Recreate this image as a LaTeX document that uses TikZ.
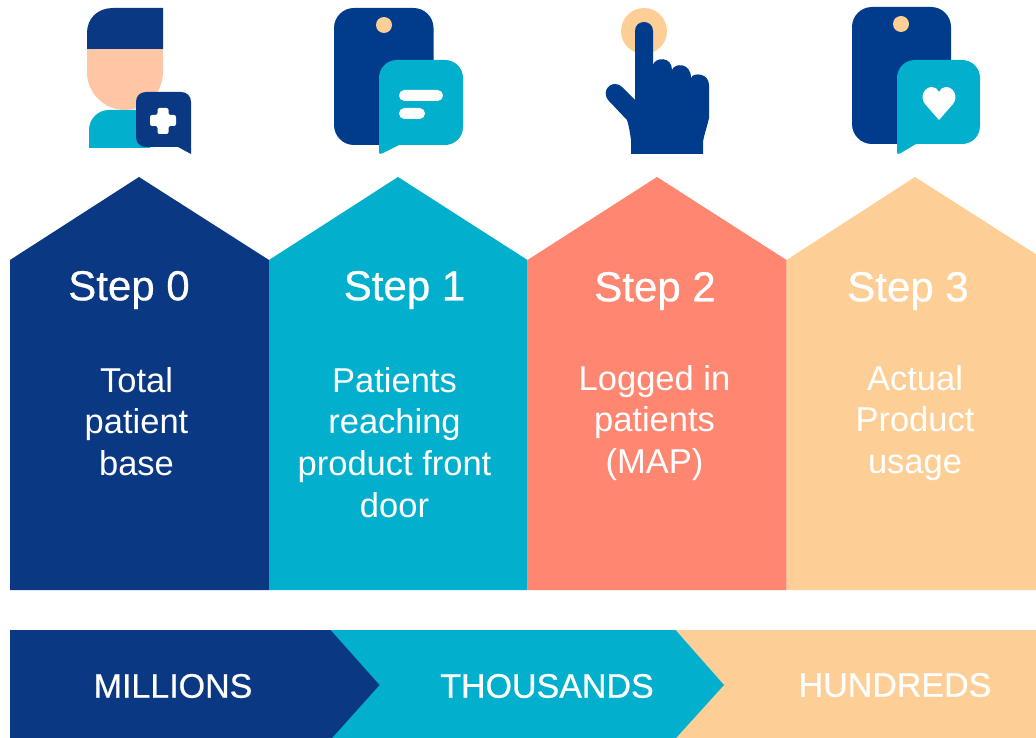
\documentclass[tikz,border=0pt]{standalone}
\usepackage{fontspec}
\setmainfont{Liberation Sans}
\newfontfamily\titlefont[FakeBold=0.6]{Liberation Sans}
\newfontfamily\bandfont[FakeBold=0.6]{Liberation Sans}
\definecolor{navy}{HTML}{0A3882}
\definecolor{phone}{HTML}{003B8C}
\definecolor{cyanb}{HTML}{02B0CD}
\definecolor{coral}{HTML}{FF8670}
\definecolor{peach}{HTML}{FDCF96}
\definecolor{skin}{HTML}{FFC6A5}
\tikzset{
  steptitle/.style={text=white,font=\titlefont\fontsize{42}{46}\selectfont,inner sep=0pt,anchor=center},
  stepbody/.style={text=white,font=\fontsize{34.5}{41.6}\selectfont,inner sep=0pt,align=center,anchor=north},
  banner/.style={text=white,font=\bandfont\fontsize{34}{38}\selectfont,inner sep=0pt,anchor=center},
}
\begin{document}
\begin{tikzpicture}[x=1pt,y=-1pt]
\useasboundingbox (0,0) rectangle (1036,738);
\begin{scope}
\clip (0,0) rectangle (1036,738);
% pentagons
\fill[navy] (10,590) -- (10,260) -- (139,177) -- (269,260) -- (269,590) -- cycle;
\fill[cyanb] (269,590) -- (269,260) -- (398,177) -- (527.5,260) -- (527.5,590) -- cycle;
\fill[coral] (527.5,590) -- (527.5,260) -- (657,177) -- (786.5,260) -- (786.5,590) -- cycle;
\fill[peach] (786.5,590) -- (786.5,260) -- (915,177) -- (1045,260) -- (1045,590) -- cycle;
% bottom band
\fill[peach] (660,630) -- (1036,630) -- (1036,738) -- (660,738) -- cycle;
\fill[cyanb] (320,630) -- (675.5,630) -- (724,685) -- (676,738) -- (320,738) -- cycle;
\fill[navy] (10,630) -- (330.5,630) -- (379.5,685) -- (332,738) -- (10,738) -- cycle;
\end{scope}
% icon 0: patient
\fill[cyanb] (89,148) -- (89,130) arc[start angle=180,end angle=270,radius=20] -- (150,110) -- (150,148) -- cycle;
\fill[skin] (87,49) -- (163,49) -- (163,72) arc[start angle=0,end angle=180,radius=38] -- cycle;
\fill[navy] (87,49) -- (87,33) .. controls (87,18) and (98,8) .. (113,8) -- (163,8) -- (163,49) -- cycle;
\fill[navy] (146,92) -- (181,92) .. controls (187,92) and (191,96) .. (191,102) -- (191,154) -- (178,147) -- (146,147) .. controls (140,147) and (136,143) .. (136,137) -- (136,102) .. controls (136,96) and (140,92) .. (146,92) -- cycle;
\fill[white,rounded corners=2pt] (157.5,108) -- (168.5,108) -- (168.5,115) -- (176,115) -- (176,126) -- (168.5,126) -- (168.5,134) -- (157.5,134) -- (157.5,126) -- (150,126) -- (150,115) -- (157.5,115) -- cycle;
% icon 1: phone with message
\fill[phone,rounded corners=20pt] (334,8) rectangle (433.5,145);
\fill[peach] (384,25) circle[radius=8];
\fill[cyanb] (397,60) -- (445,60) .. controls (455,60) and (463,68) .. (463,78) -- (463,127) .. controls (463,137) and (455,145) .. (445,145) -- (399,145) -- (382,153.5) .. controls (380,154.5) and (379,154) .. (379,152) -- (379,78) .. controls (379,68) and (387,60) .. (397,60) -- cycle;
\fill[white,rounded corners=5.4pt] (399,90) rectangle (443,101);
\fill[white,rounded corners=5.4pt] (399,108) rectangle (425,119);
% icon 2: pointing hand
\fill[peach] (644,31) circle[radius=23];
\fill[phone] (631,154) -- (631,140) .. controls (630,133) and (629,126) .. (627,120) -- (609,101) .. controls (602,94) and (607,84) .. (615,84) .. controls (618,84) and (620,85) .. (622,87) -- (635,100) -- (635,31) .. controls (635,19) and (653,19) .. (653,31) -- (653,65) .. controls (655,57) and (672,56) .. (672,70) .. controls (674,63) and (691,62) .. (691,78) .. controls (693,72) and (709,73) .. (709,85) -- (709,118) .. controls (707,127) and (704,135) .. (703,142) -- (703,154) -- cycle;
% icon 3: phone with heart
\fill[phone,rounded corners=20pt] (852,7) rectangle (951,144);
\fill[peach] (901,24) circle[radius=8];
\fill[cyanb] (915,60) -- (962,60) .. controls (972,60) and (980,68) .. (980,78) -- (980,126) .. controls (980,136) and (972,144) .. (962,144) -- (916,144) -- (900,153.5) .. controls (898,154.5) and (897,154) .. (897,152) -- (897,78) .. controls (897,68) and (905,60) .. (915,60) -- cycle;
\fill[white] (939,120) -- (925,104) .. controls (919,96) and (925,87) .. (932,87) .. controls (935,87) and (938,89) .. (939,92) .. controls (940,89) and (943,87) .. (946,87) .. controls (953,87) and (959,96) .. (953,104) -- cycle;
% texts
\node[steptitle] (s0) at (129,290) {Step 0};
\node[steptitle] (s1) at (404.5,290) {Step 1};
\node[steptitle] (s2) at (655,291) {Step 2};
\node[steptitle] (s3) at (908,291) {Step 3};
\node[stepbody] (b0) at (136.5,367) {Total\\patient\\base};
\node[stepbody] (b1) at (394.5,367) {Patients\\reaching\\product front\\door};
\node[stepbody] (b2) at (654.5,365) {Logged in\\patients\\(MAP)};
\node[stepbody] (b3) at (915,365) {Actual\\Product\\usage};
\node[banner] (m) at (173,686) {MILLIONS};
\node[banner] (t) at (547,686) {THOUSANDS};
\node[banner] (h) at (895,685) {HUNDREDS};
\end{tikzpicture}
\end{document}
